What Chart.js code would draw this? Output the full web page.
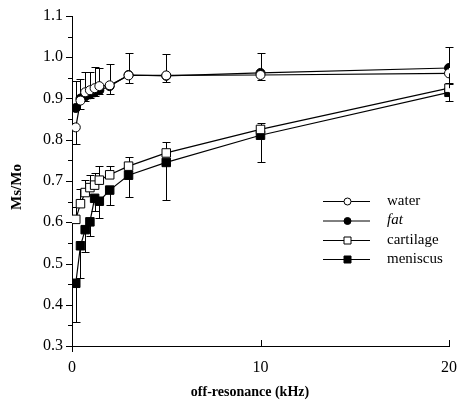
<!DOCTYPE html>
<html>
<head>
<meta charset="utf-8">
<script src="https://cdn.jsdelivr.net/npm/chart.js@4.4.1/dist/chart.umd.min.js"></script>
<style>
  html, body { margin: 0; padding: 0; background: #fff; }
  #wrap { width: 458px; height: 407px; }
</style>
</head>
<body>
<div id="wrap"><canvas id="msChart" width="458" height="407"></canvas></div>
<script>
// off-resonance frequencies (kHz)
const freqs = [0.2, 0.45, 0.7, 0.95, 1.2, 1.45, 2, 3, 5, 10, 20];

// Ms/Mo per tissue
const water     = [0.83, 0.895, 0.915, 0.92, 0.925, 0.93, 0.932, 0.956, 0.956, 0.957, 0.961];
const fat       = [0.877, 0.90, 0.905, 0.91, 0.915, 0.92, 0.93, 0.957, 0.955, 0.962, 0.974];
const cartilage = [0.607, 0.645, 0.672, 0.684, 0.69, 0.702, 0.715, 0.736, 0.768, 0.825, 0.925];
const meniscus  = [0.452, 0.543, 0.582, 0.601, 0.658, 0.651, 0.678, 0.714, 0.745, 0.811, 0.915];

// error bars (only one side is drawn, as in the figure)
const waterErr     = [0.04, 0.02, 0.02, 0.02, 0.02, 0.02, 0.021, 0.018, 0.016, 0.012, 0.023];
const fatErr       = [0.065, 0.047, 0.059, 0.055, 0.062, 0.055, 0.053, 0.053, 0.052, 0.048, 0.051];
const cartilageErr = [0.03, 0.035, 0.03, 0.03, 0.03, 0.034, 0.022, 0.023, 0.027, 0.015, 0.01];
const meniscusErr  = [0.095, 0.077, 0.055, 0.035, 0.03, 0.04, 0.035, 0.052, 0.091, 0.064, 0.021];

const seriesLabels = ['water', 'fat', 'cartilage', 'meniscus'];
const xTicks = [0, 10, 20];
const yTicks = [0.3, 0.4, 0.5, 0.6, 0.7, 0.8, 0.9, 1.0, 1.1];

const SERIF = "'Liberation Serif', 'Times New Roman', serif";

const series = [
    { values: water, err: waterErr, dir: -1, style: 'circle', fill: '#fff' },
    { values: fat, err: fatErr, dir: 1, style: 'circle', fill: '#000' },
    { values: cartilage, err: cartilageErr, dir: 1, style: 'rect', fill: '#fff' },
    { values: meniscus, err: meniscusErr, dir: -1, style: 'rect', fill: '#000' }
];

const errorBars = {
    id: 'errorBars',
    beforeDatasetsDraw(chart) {
        const { ctx, scales: { x, y } } = chart;
        ctx.save();
        ctx.strokeStyle = '#000';
        ctx.lineWidth = 1;
        series.forEach((s) => {
            s.values.forEach((v, i) => {
                const px = Math.round(x.getPixelForValue(freqs[i])) + 0.5;
                const y0 = y.getPixelForValue(v);
                const y1 = Math.round(y.getPixelForValue(v + s.dir * s.err[i])) + 0.5;
                ctx.beginPath();
                ctx.moveTo(px, y0);
                ctx.lineTo(px, y1);
                ctx.moveTo(px - 4, y1);
                ctx.lineTo(px + 4, y1);
                ctx.stroke();
            });
        });
        ctx.restore();
    }
};

const decorations = {
    id: 'decorations',
    afterDraw(chart) {
        const { ctx, chartArea: area, scales: { x, y } } = chart;
        ctx.save();
        ctx.strokeStyle = '#000';
        ctx.lineWidth = 1;
        ctx.beginPath();
        // y ticks (outward), minor ones in between
        yTicks.forEach((v, i) => {
            const py = Math.round(y.getPixelForValue(v)) + 0.5;
            ctx.moveTo(area.left - 6, py);
            ctx.lineTo(area.left, py);
            if (i < yTicks.length - 1) {
                const pm = Math.round(y.getPixelForValue(v + 0.05)) + 0.5;
                ctx.moveTo(area.left - 4, pm);
                ctx.lineTo(area.left, pm);
            }
        });
        // x ticks (inward)
        xTicks.forEach((v) => {
            const px = Math.round(x.getPixelForValue(v)) + 0.5;
            ctx.moveTo(px, area.bottom);
            ctx.lineTo(px, area.bottom - 6);
        });
        ctx.moveTo(area.left + 0.5, area.bottom);
        ctx.lineTo(area.left + 0.5, area.bottom + 6);
        ctx.stroke();

        // axis titles
        ctx.fillStyle = '#000';
        ctx.font = 'bold 14px ' + SERIF;
        ctx.textAlign = 'center';
        ctx.textBaseline = 'middle';
        ctx.fillText('off-resonance (kHz)', 250, 392);
        ctx.save();
        ctx.translate(17, 187);
        ctx.rotate(-Math.PI / 2);
        ctx.font = 'bold 15px ' + SERIF;
        ctx.fillText('Ms/Mo', 0, 0);
        ctx.restore();

        // legend
        const rowY = [201, 220.5, 240, 259];
        series.forEach((s, i) => {
            const ly = rowY[i];
            ctx.beginPath();
            ctx.moveTo(323, ly + 0.5);
            ctx.lineTo(370, ly + 0.5);
            ctx.stroke();
            ctx.beginPath();
            if (s.style === 'circle') {
                ctx.arc(347.5, ly + 0.5, 3.5, 0, Math.PI * 2);
            } else {
                ctx.rect(344, ly - 3, 7, 7);
            }
            ctx.fillStyle = s.fill;
            ctx.fill();
            ctx.stroke();
            ctx.fillStyle = '#000';
            ctx.textAlign = 'left';
            ctx.font = (seriesLabels[i] === 'fat' ? 'italic ' : '') + '15px ' + SERIF;
            ctx.fillText(seriesLabels[i], 387, ly);
        });
        ctx.restore();
    }
};

new Chart(document.getElementById('msChart').getContext('2d'), {
    type: 'scatter',
    data: {
        datasets: series.map((s, i) => ({
            label: seriesLabels[i],
            data: s.values.map((v, j) => ({ x: freqs[j], y: v })),
            showLine: true,
            borderColor: '#000',
            borderWidth: 1.2,
            pointStyle: s.style,
            pointRadius: s.style === 'rect' ? 6 : 4.5,
            pointBackgroundColor: s.fill,
            pointBorderColor: '#000',
            pointBorderWidth: 1,
            tension: 0
        }))
    },
    options: {
        responsive: false,
        animation: false,
        events: [],
        layout: { padding: { top: 16, right: 9, left: 0, bottom: 0 } },
        plugins: { legend: { display: false }, tooltip: { enabled: false } },
        scales: {
            x: {
                type: 'linear',
                min: 0,
                max: 20,
                afterBuildTicks: (scale) => { scale.ticks = xTicks.map((v) => ({ value: v })); },
                afterFit: (scale) => {
                    scale.height = 61;
                    scale.paddingLeft = 0;
                    scale.paddingRight = 0;
                },
                grid: { display: false, drawTicks: false, tickLength: 0 },
                border: { display: true, color: '#000', width: 1 },
                ticks: { color: '#000', padding: 12, maxRotation: 0, font: { family: SERIF, size: 16 } }
            },
            y: {
                min: 0.3,
                max: 1.1,
                afterBuildTicks: (scale) => { scale.ticks = yTicks.map((v) => ({ value: v })); },
                afterFit: (scale) => {
                    scale.width = 72;
                    scale.paddingTop = 0;
                    scale.paddingBottom = 0;
                },
                grid: { display: false, drawTicks: false, tickLength: 0 },
                border: { display: true, color: '#000', width: 1 },
                ticks: {
                    color: '#000',
                    padding: 9,
                    font: { family: SERIF, size: 16 },
                    callback: (v) => Number(v).toFixed(1)
                }
            }
        }
    },
    plugins: [errorBars, decorations]
});
</script>
</body>
</html>
